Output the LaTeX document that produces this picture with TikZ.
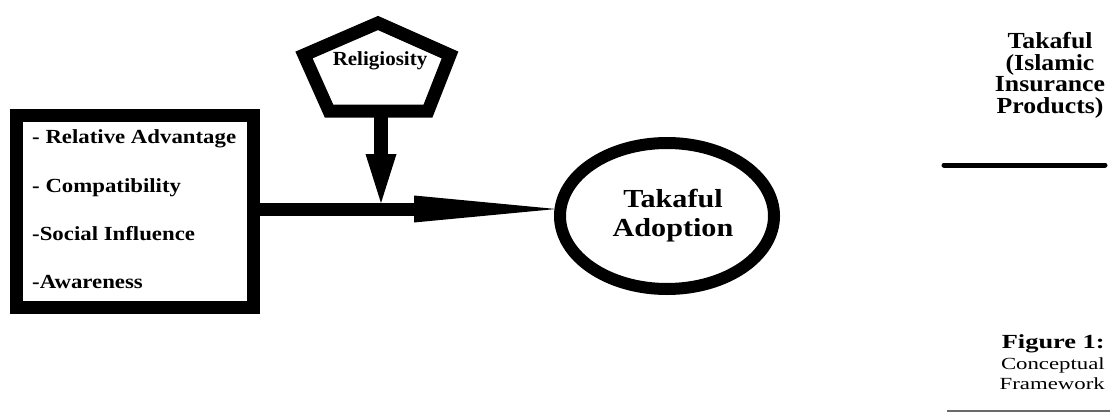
\documentclass[tikz,border=0pt]{standalone}
\usepackage{fontspec}
\setmainfont{Liberation Serif}
\usetikzlibrary{arrows.meta,shapes.geometric}
\definecolor{rulegray}{RGB}{105,105,105}
\begin{document}
\begin{tikzpicture}[x=1pt,y=-1pt,
  boxtxt/.style={anchor=base west, inner sep=0pt, font=\fontsize{20}{22}\selectfont\bfseries, xscale=1.14},
  fat/.style={line width=13pt},
  tiny/.style={inner sep=0pt, outer sep=0pt}]
\useasboundingbox (0,0) rectangle (1110,412);
% factor box
\node[draw, fat, tiny, minimum width=237pt, minimum height=192pt] (box) at (135,211.5) {};
\node[boxtxt] (t1) at (32,143) {- Relative Advantage};
\node[boxtxt] (t2) at (32,192) {- Compatibility};
\node[boxtxt] (t3) at (32,240) {-Social Influence};
\node[boxtxt] (t4) at (32,288) {-Awareness};
% outcome ellipse
\node[ellipse, draw, line width=12pt, tiny, minimum width=214pt, minimum height=146pt] (ell) at (667,216) {};
\node[font=\fontsize{26}{29}\selectfont\bfseries, xscale=1.16, align=center, inner sep=0pt] (adopt) at (673,216) {Takaful\\Adoption};
% main arrow
\coordinate (tip) at (556,209);
\draw[fat, -{Triangle[length=142pt,width=27pt,line width=0pt]}] (box.east |- tip) -- (tip);
% moderator pentagon
\coordinate (pA) at (378,23);
\coordinate (pB) at (450,55);
\coordinate (pC) at (428,111);
\coordinate (pD) at (329,111);
\coordinate (pE) at (304,55);
\draw[fat, line join=miter] (pA) -- (pB) -- (pC) -- (pD) -- (pE) -- cycle;
\node[font=\fontsize{20}{24}\selectfont\bfseries, xscale=1.05, inner sep=0pt] (rel) at (380,61) {Religiosity};
\coordinate (pbot) at (381,111);
\coordinate (mod) at (381,203);
\draw[line width=14pt, -{Triangle[length=49pt,width=31pt,line width=0pt]}] (pbot) -- (mod);
% right side
\node[font=\fontsize{23}{21.7}\selectfont\bfseries, xscale=1.12, align=center, anchor=north, inner sep=0pt] (prod) at (1050,32) {Takaful\\(Islamic\\Insurance\\Products)};
\coordinate (l1) at (944,165);
\coordinate (l2) at (1105,165);
\draw[line width=5pt, line cap=round] (l1) -- (l2);
\node[font=\fontsize{20}{22}\selectfont\bfseries, xscale=1.32, anchor=base east, inner sep=0pt] (fig) at (1105,348) {Figure 1:};
\node[font=\fontsize{17}{20}\selectfont, xscale=1.34, anchor=base east, inner sep=0pt] (c1) at (1105,369) {Conceptual};
\node[font=\fontsize{17}{20}\selectfont, xscale=1.34, anchor=base east, inner sep=0pt] (c2) at (1105,389) {Framework};
\coordinate (g1) at (947,411);
\coordinate (g2) at (1110,411);
\draw[line width=2pt, rulegray] (g1) -- (g2);
\end{tikzpicture}
\end{document}
